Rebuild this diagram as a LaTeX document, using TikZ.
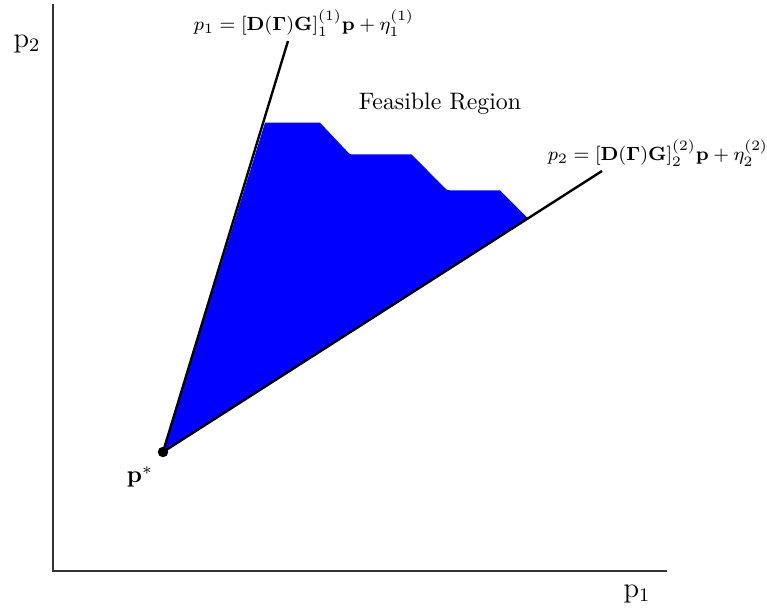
\documentclass[tikz,border=0pt]{standalone}
\usepackage{amsmath,amssymb,bm}

\tikzset{
  axisline/.style={draw=black!80, line width=0.85pt},
  bound/.style={draw=black, line width=1pt},
  feas/.style={fill=blue},
  dot/.style={circle, fill=black, inner sep=0pt, minimum size=4.4pt},
}

\begin{document}
\begin{tikzpicture}[x=0.42pt, y=-0.42pt]
  \useasboundingbox (0,0) rectangle (767,611);

  \coordinate (o)    at (53,571);
  \coordinate (ytop) at (53,4);
  \coordinate (xend) at (667,571);
  \coordinate (ps)   at (163,452);
  \coordinate (t1)   at (288,41);
  \coordinate (t2)   at (602,171);

  \path[feas] (ps) -- (265,122.7) -- (320,122.7) -- (347,151.3)
    .. controls (350,154.5) .. (355,154.5) -- (411.7,154.5) -- (443,186.2)
    .. controls (447,190.3) .. (452,190.3) -- (500,190.3) -- (525,215.5)
    .. controls (528,218.2) .. (531,216.1) -- cycle;

  \draw[axisline] (ytop) -- (o) -- (xend);
  \draw[bound] (ps) -- (t1);
  \draw[bound] (ps) -- (t2);
  \node[dot] (pstar) at (ps) {};

  \node (lstar) at (140,477) {$\mathbf{p}^*$};
  \node[font=\large] (ylab) at (27,44) {$\mathrm{p}_2$};
  \node[font=\large] (xlab) at (637,594) {$\mathrm{p}_1$};
  \node (region) at (440,104) {Feasible Region};
  \node[font=\footnotesize, inner sep=0pt] (eqone) at (304,23)
    {$p_1 = [\mathbf{D}(\mathbf{\Gamma})\mathbf{G}]_1^{(1)}\mathbf{p} + \eta_1^{(1)}$};
  \node[font=\footnotesize, inner sep=0pt] (eqtwo) at (658,153)
    {$p_2 = [\mathbf{D}(\mathbf{\Gamma})\mathbf{G}]_2^{(2)}\mathbf{p} + \eta_2^{(2)}$};
\end{tikzpicture}
\end{document}
